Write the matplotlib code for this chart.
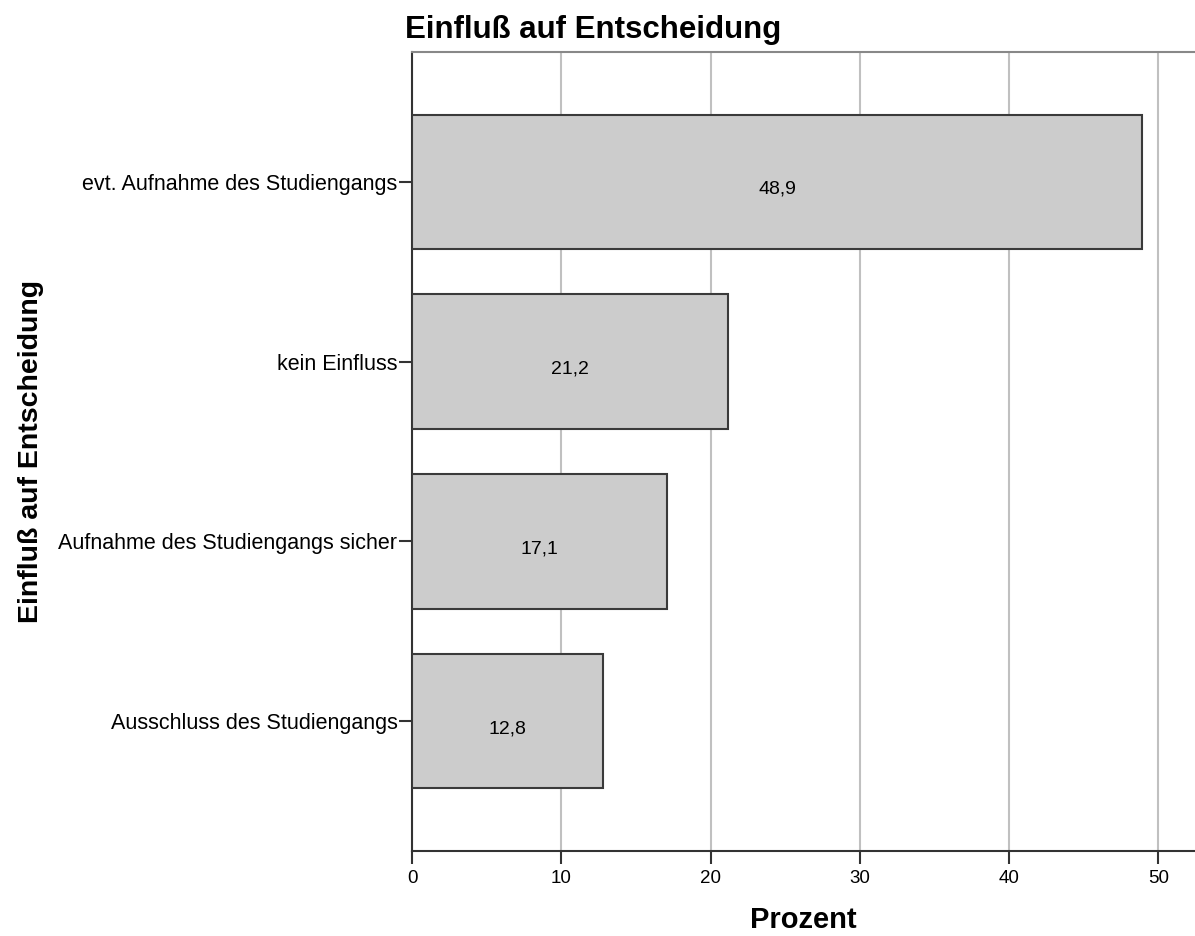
import numpy as np
import matplotlib.pyplot as plt

categories = ['Ausschluss des Studiengangs', 'Aufnahme des Studiengangs sicher',
              'kein Einfluss', 'evt. Aufnahme des Studiengangs']
values = [12.8, 17.1, 21.2, 48.9]
value_labels = ['12,8', '17,1', '21,2', '48,9']
xticks = [0, 10, 20, 30, 40, 50]

plt.rcParams['font.family'] = ['Liberation Sans', 'DejaVu Sans']

fig = plt.figure(figsize=(11.95, 9.36), dpi=100)
ax = fig.add_axes([412/1195, 1 - 851/936, 1 - 412/1195, (851 - 52)/936])

pos = np.arange(len(categories))
ax.barh(pos, values, height=0.745, color='#cccccc', edgecolor='#3a3a3a',
        linewidth=1.5, zorder=3)
for p, v, lab in zip(pos, values, value_labels):
    ax.text(v / 2, p - 0.04, lab, ha='center', va='center', fontsize=14, zorder=4)

ax.set_xlim(0, 52.45)
ax.set_ylim(-0.72, 3.72)
ax.set_xticks(xticks)
ax.set_xticklabels([str(t) for t in xticks], fontsize=13.5)
ax.set_yticks(pos)
ax.set_yticklabels(categories, fontsize=15.5)
ax.xaxis.grid(True, color='#c0c0c0', linewidth=1.5, zorder=0)
ax.set_axisbelow(True)
ax.spines['right'].set_visible(False)
for s in ['left', 'bottom', 'top']:
    ax.spines[s].set_linewidth(1.5)
    ax.spines[s].set_color('#333333')
ax.spines['top'].set_color('#888888')
ax.tick_params(axis='both', length=9.5, width=1.5, color='#333333')
ax.tick_params(axis='x', pad=4)
ax.tick_params(axis='y', pad=1)

ax.set_ylabel('Einfluß auf Entscheidung', fontsize=20.5, fontweight='bold')
ax.yaxis.set_label_coords(-0.47, 0.5)

# x-axis label sits near the bottom edge, centred under the axes
fig.text(803/1195, 1 - 928/936, 'Prozent', fontsize=21,
         fontweight='bold', ha='center', va='baseline')

fig.text(405/1195, 1 - 38/936, 'Einfluß auf Entscheidung', fontsize=22.5,
         fontweight='bold', ha='left', va='baseline')

plt.savefig('out.png', dpi=100)
